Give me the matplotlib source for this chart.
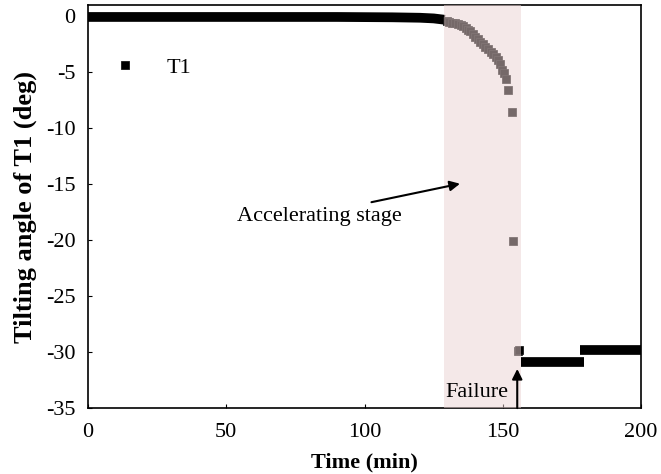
import numpy as np
import matplotlib
matplotlib.use('Agg')
import matplotlib.pyplot as plt

plt.rcParams['font.family'] = ['Liberation Serif', 'DejaVu Serif']
plt.rcParams['axes.unicode_minus'] = False

# dense logged parts of T1 (drawn as bands)
base_t = [0, 30, 60, 90, 110, 120, 125, 129]
base_a = [-0.05, -0.05, -0.05, -0.05, -0.08, -0.12, -0.18, -0.3]
low_t = [156.5, 179.5]
low_a = [-30.9, -30.9]
high_t = [178.0, 200]
high_a = [-29.85, -29.85]

# accelerating stage points
acc_t = [129.7, 130.7, 131.7, 132.7, 133.7, 134.7, 135.7, 136.5, 137.3, 138.2,
         139.1, 140.0, 140.9, 141.8, 142.8, 143.7, 144.7, 145.7, 146.6, 147.6,
         148.3, 149.0, 149.7, 150.5, 151.2, 152.0, 153.2, 153.8, 155.4, 156.0]
acc_a = [-0.42, -0.50, -0.56, -0.63, -0.72, -0.80, -0.87, -1.05, -1.18, -1.31,
         -1.55, -1.82, -2.05, -2.27, -2.50, -2.72, -2.95, -3.19, -3.40, -3.64,
         -3.90, -4.21, -4.80, -5.10, -5.55, -6.60, -8.53, -20.1, -29.9, -29.85]

xticks = [0, 50, 100, 150, 200]
yticks = [0, -5, -10, -15, -20, -25, -30, -35]

fs = 16

fig = plt.figure(figsize=(6.61, 4.74), dpi=100)
ax = fig.add_axes([0.133, 0.139, 0.837, 0.850])

band_lw = 7.0
for tt, aa in [(base_t, base_a), (low_t, low_a), (high_t, high_a)]:
    ax.plot(tt, aa, color='black', lw=band_lw, solid_capstyle='butt', zorder=3)
ax.plot(acc_t, acc_a, 's', color='black', ms=5.8, mec='#1a1a1a', mew=0.6,
        ls='none', label='T1', zorder=3)

# accelerating stage shading (drawn on top, semi-transparent)
ax.axvspan(128.8, 156.4, color='#ead2d2', alpha=0.5, lw=0, zorder=4)

ax.annotate('', xy=(134.5, -14.95), xytext=(102.5, -16.6),
            arrowprops=dict(arrowstyle='-|>', color='black', lw=1.5,
                            mutation_scale=15, shrinkA=0, shrinkB=0), zorder=6)
ax.text(83.5, -17.9, 'Accelerating stage', fontsize=fs, ha='center', va='center', zorder=6)

ax.annotate('', xy=(155.2, -31.5), xytext=(155.2, -35),
            arrowprops=dict(arrowstyle='-|>', color='black', lw=1.5,
                            mutation_scale=15, shrinkA=0, shrinkB=0), zorder=6)
ax.text(152.0, -33.6, 'Failure', fontsize=fs, ha='right', va='center', zorder=6)

ax.set_xlim(0, 200)
ax.set_ylim(-35, 1)
ax.set_xticks(xticks)
ax.set_yticks(yticks)
ax.set_yticklabels([str(v) for v in yticks])
ax.tick_params(direction='in', length=3, labelsize=fs)
ax.tick_params(axis='x', pad=11)
ax.tick_params(axis='y', pad=9)

ax.set_xlabel('Time (min)', fontsize=fs, fontweight='bold', labelpad=7)
ax.set_ylabel('Tilting angle of T1 (deg)', fontsize=19, fontweight='bold', labelpad=6)

for s in ax.spines.values():
    s.set_linewidth(1.2)

ax.legend(loc='upper left', bbox_to_anchor=(0.01, 0.92), frameon=False,
          fontsize=fs, handletextpad=1.4, handlelength=1.0)

fig.savefig('out.png', dpi=100)
